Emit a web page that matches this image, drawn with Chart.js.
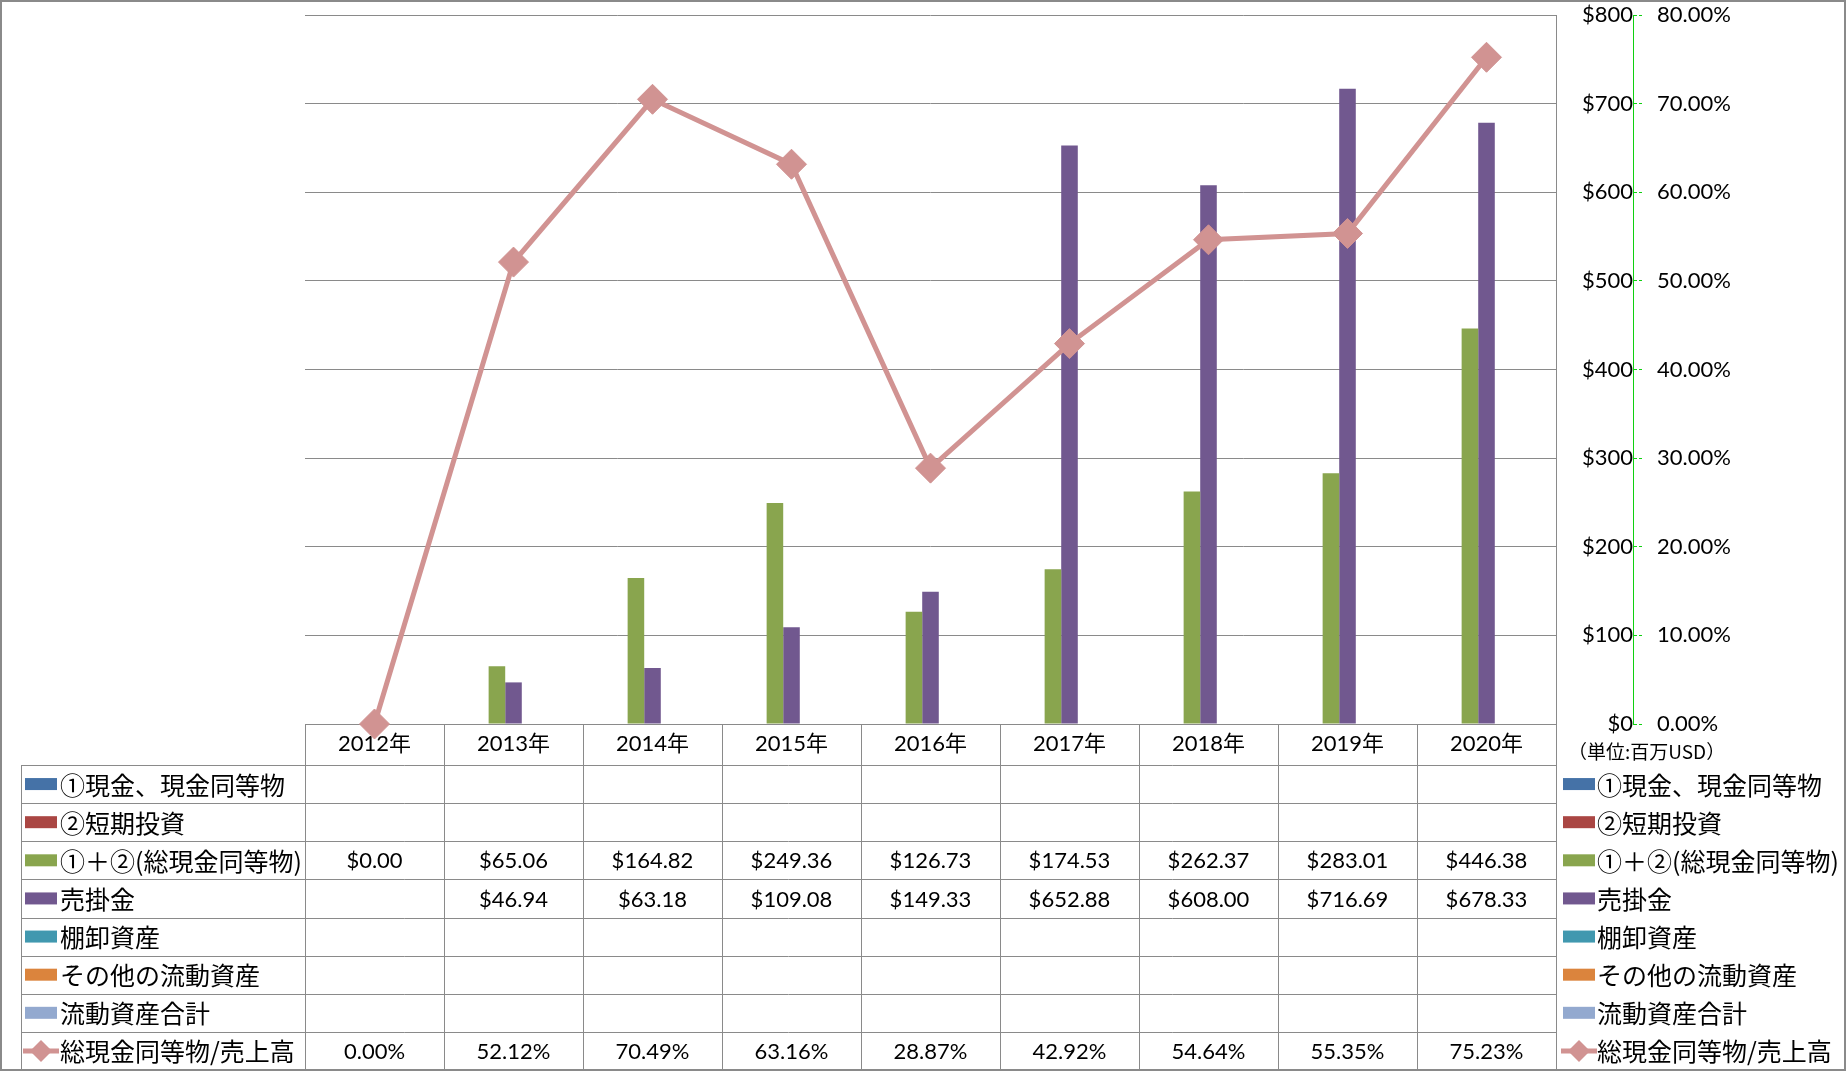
<!DOCTYPE html>
<html>
<head>
<meta charset="utf-8">
<script src="https://cdn.jsdelivr.net/npm/chart.js@4.4.1/dist/chart.umd.min.js"></script>
<style>
html, body { margin: 0; padding: 0; background: #fff; }
#wrap { width: 1846px; height: 1071px; }
</style>
</head>
<body>
<div id="wrap"><canvas id="assetChart" width="1846" height="1071"></canvas></div>
<script>
// data (単位: 百万USD)
var years = ['2012年', '2013年', '2014年', '2015年', '2016年', '2017年', '2018年', '2019年', '2020年'];
var cashEq = [];
var shortInvest = [];
var totalCash = [0.00, 65.06, 164.82, 249.36, 126.73, 174.53, 262.37, 283.01, 446.38];
var receivables = [null, 46.94, 63.18, 109.08, 149.33, 652.88, 608.00, 716.69, 678.33];
var inventory = [];
var otherCurrent = [];
var totalCurrent = [];
var cashToSales = [0.00, 52.12, 70.49, 63.16, 28.87, 42.92, 54.64, 55.35, 75.23];

var seriesNames = ['①現金、現金同等物', '②短期投資', '①＋②(総現金同等物)', '売掛金', '棚卸資産', 'その他の流動資産', '流動資産合計', '総現金同等物/売上高'];
var colors = ['#4572A7', '#AA4643', '#89A54E', '#71588F', '#4198AF', '#DB843D', '#93A9CF', '#D19392'];

var latin = "Lato, 'Noto Sans CJK JP', sans-serif";
var jp = "'Noto Sans CJK JP', sans-serif";
var gridGray = '#8a8a8a';

function money(v) { return '$' + v.toFixed(2); }
function pct(v) { return v.toFixed(2) + '%'; }

var tableRows = [cashEq, shortInvest, totalCash, receivables, inventory, otherCurrent, totalCurrent, cashToSales];

function drawKey(ctx, i, x, y) {
    ctx.fillStyle = colors[i];
    if (i < 7) {
        ctx.fillRect(x, y - 6, 32, 12);
    } else {
        ctx.strokeStyle = colors[i];
        ctx.lineWidth = 5;
        ctx.beginPath();
        ctx.moveTo(x - 2, y);
        ctx.lineTo(x + 34, y);
        ctx.stroke();
        var cx = x + 16, r = 11;
        ctx.beginPath();
        ctx.moveTo(cx, y - r);
        ctx.lineTo(cx + r, y);
        ctx.lineTo(cx, y + r);
        ctx.lineTo(cx - r, y);
        ctx.closePath();
        ctx.fill();
    }
}

// tick padding also pushes the plot down, so drop the vertical part of it
function noVertPad(s) {
    s.paddingTop = 0;
    s.paddingBottom = 0;
}

var dataTable = {
    id: 'dataTable',
    beforeDraw: function(chart) {
        var ctx = chart.ctx;
        ctx.save();
        ctx.fillStyle = '#fff';
        ctx.fillRect(0, 0, chart.width, chart.height);
        ctx.restore();
    },
    afterDraw: function(chart) {
        var ctx = chart.ctx;
        var xs = chart.scales.x;
        var area = chart.chartArea;
        var headTop = area.bottom;
        var headBot = xs.bottom;
        var tableBot = chart.height - 1;
        var rowH = (tableBot - headBot) / 8;
        var tLeft = 21;
        var half = (xs.getPixelForValue(1) - xs.getPixelForValue(0)) / 2;

        ctx.save();
        // table grid
        ctx.strokeStyle = gridGray;
        ctx.lineWidth = 1;
        ctx.beginPath();
        for (var r = 0; r <= 8; r++) {
            var yy = Math.round(headBot + r * rowH) + 0.5;
            ctx.moveTo(tLeft, yy);
            ctx.lineTo(area.right, yy);
        }
        ctx.moveTo(tLeft + 0.5, headBot);
        ctx.lineTo(tLeft + 0.5, tableBot);
        for (var c = 0; c <= years.length; c++) {
            var xx = Math.round(xs.getPixelForValue(0) - half + c * half * 2) + 0.5;
            ctx.moveTo(xx, headTop);
            ctx.lineTo(xx, tableBot);
        }
        ctx.stroke();

        // row labels, keys and values
        ctx.textBaseline = 'middle';
        for (var i = 0; i < tableRows.length; i++) {
            var cy = headBot + (i + 0.5) * rowH;
            drawKey(ctx, i, 25, cy);
            drawKey(ctx, i, 1563, cy);
            ctx.fillStyle = '#000';
            ctx.textAlign = 'left';
            ctx.font = '25px ' + jp;
            ctx.fillText(seriesNames[i], 60, cy + 1);
            ctx.fillText(seriesNames[i], 1597, cy + 1);
            ctx.font = '22px ' + latin;
            ctx.textAlign = 'center';
            var vals = tableRows[i];
            for (var k = 0; k < years.length; k++) {
                var v = vals[k];
                if (v === null || v === undefined) continue;
                ctx.fillText(i === 7 ? pct(v) : money(v), xs.getPixelForValue(k), cy + 1);
            }
        }

        // unit note under the axes
        ctx.textAlign = 'left';
        ctx.font = '19px ' + jp;
        ctx.fillText('（単位:百万USD）', 1568, 752);

        // outer frame
        ctx.strokeStyle = gridGray;
        ctx.lineWidth = 2;
        ctx.strokeRect(1, 1, chart.width - 2, chart.height - 2);
        ctx.restore();
    }
};

var ctxAssets = document.getElementById('assetChart').getContext('2d');

var barSets = [cashEq, shortInvest, totalCash, receivables, inventory, otherCurrent, totalCurrent];
var datasets = barSets.map(function(d, i) {
    return {
        type: 'bar',
        label: seriesNames[i],
        data: d,
        yAxisID: 'y',
        backgroundColor: colors[i],
        borderWidth: 0,
        categoryPercentage: 0.835,
        barPercentage: 1.0
    };
});
datasets.push({
    type: 'line',
    label: seriesNames[7],
    data: cashToSales,
    yAxisID: 'y1',
    order: -1,
    borderColor: colors[7],
    backgroundColor: colors[7],
    borderWidth: 5,
    tension: 0,
    pointStyle: 'rectRot',
    pointRadius: 15,
    pointBackgroundColor: colors[7],
    pointBorderColor: colors[7],
    pointBorderWidth: 1,
    clip: false
});

var assetChart = new Chart(ctxAssets, {
    data: {
        labels: years,
        datasets: datasets
    },
    options: {
        responsive: false,
        animation: false,
        devicePixelRatio: 1,
        layout: { autoPadding: false, padding: { left: 305, top: 15, right: 0, bottom: 306 } },
        plugins: {
            legend: { display: false },
            tooltip: { enabled: false }
        },
        scales: {
            x: {
                type: 'category',
                grid: { display: false, drawTicks: false },
                border: { display: true, color: gridGray },
                ticks: { color: '#000', font: { family: latin, size: 22 }, padding: 7, maxRotation: 0 },
                afterFit: function(s) { s.height = 41; }
            },
            y: {
                type: 'linear',
                position: 'right',
                weight: 0,
                min: 0,
                max: 800,
                grid: { color: gridGray, drawTicks: false },
                border: { display: true, color: gridGray },
                ticks: {
                    stepSize: 100,
                    color: '#000',
                    crossAlign: 'far',
                    padding: 15,
                    font: { family: latin, size: 22 },
                    callback: function(v) { return '$' + v; }
                },
                afterFit: function(s) { s.width = 77; noVertPad(s); }
            },
            y1: {
                type: 'linear',
                position: 'right',
                weight: 1,
                min: 0,
                max: 80,
                grid: { drawOnChartArea: false, drawTicks: true, tickLength: 9, color: '#10d010', tickBorderDash: [3, 2] },
                border: { display: true, color: '#10d010', dash: [5, 3] },
                ticks: {
                    stepSize: 10,
                    color: '#000',
                    padding: 15,
                    font: { family: latin, size: 22 },
                    callback: function(v) { return v.toFixed(2) + '%'; }
                },
                afterFit: function(s) { s.width = 213; noVertPad(s); }
            }
        }
    },
    plugins: [dataTable]
});
</script>
</body>
</html>
